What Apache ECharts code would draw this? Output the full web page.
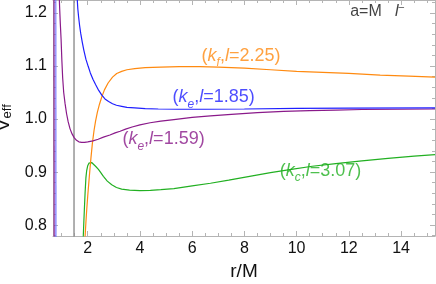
<!DOCTYPE html>
<html><head><meta charset="utf-8">
<script src="https://cdn.jsdelivr.net/npm/echarts@6/dist/echarts.min.js"></script>
<style>html,body{margin:0;padding:0;background:#fff}#c{width:436px;height:284px}</style>
</head><body><div id="c"></div>
<script>
// ---- data ----
const xTicks = [2, 4, 6, 8, 10, 12, 14];
const yTicks = [0.8, 0.9, 1.0, 1.1, 1.2];
const xMinorTicks = [1, 1.5, 2.5, 3, 3.5, 4.5, 5, 5.5, 6.5, 7, 7.5, 8.5, 9, 9.5, 10.5, 11, 11.5, 12.5, 13, 13.5, 14.5, 15];
const yMinorTicks = [0.78, 0.82, 0.84, 0.86, 0.88, 0.92, 0.94, 0.96, 0.98, 1.02, 1.04, 1.06, 1.08, 1.12, 1.14, 1.16, 1.18, 1.22];
const horizonLine = [[1.475, 0.7], [1.475, 1.3]];

const bluePole = [[0.765, 1.3], [0.775, 0.7]];
const blueCurve = [[1.58,1.25],[1.60,1.2245],[1.62,1.208],[1.65,1.193],[1.69,1.176],[1.73,1.162],[1.79,1.145],[1.85,1.130],[1.93,1.113],[2.02,1.099],[2.10,1.087],[2.20,1.075],[2.30,1.065],[2.42,1.054],[2.54,1.045],[2.66,1.038],[2.80,1.033],[2.95,1.029],[3.1,1.026],[3.3,1.024],[3.5,1.022],[3.8,1.021],[4.2,1.0195],[4.7,1.019],[5.5,1.0185],[6.5,1.0185],[8,1.019],[10,1.020],[12,1.0205],[15.3,1.021]];

const purplePole = [[0.705, 1.3], [0.715, 0.7]];
const purpleCurve = [[0.90,1.25],[0.92,1.215],[0.95,1.18],[0.98,1.150],[1.01,1.11],[1.04,1.078],[1.08,1.05],[1.13,1.030],[1.19,1.010],[1.25,0.995],[1.32,0.982],[1.40,0.972],[1.48,0.965],[1.57,0.960],[1.66,0.957],[1.76,0.956],[1.88,0.956],[2.0,0.957],[2.2,0.959],[2.4,0.962],[2.6,0.966],[2.85,0.970],[3.05,0.974],[3.24,0.977],[3.45,0.981],[3.7,0.985],[4.0,0.989],[4.39,0.993],[4.8,0.996],[5.3,0.999],[6,1.003],[6.7,1.006],[7.5,1.009],[8.5,1.012],[9.5,1.0145],[10.5,1.016],[11.5,1.017],[12.5,1.018],[14,1.0185],[15.3,1.019]];

const orangeCurve = [[1.89,0.75],[1.90,0.7795],[1.93,0.805],[1.96,0.828],[2.00,0.855],[2.06,0.891],[2.12,0.925],[2.18,0.955],[2.24,0.978],[2.30,0.996],[2.37,1.013],[2.45,1.028],[2.54,1.042],[2.64,1.055],[2.78,1.068],[2.95,1.079],[3.11,1.086],[3.3,1.090],[3.5,1.093],[3.8,1.095],[4.2,1.097],[4.8,1.098],[5.5,1.099],[6.3,1.099],[7,1.098],[8,1.096],[9,1.093],[10,1.090],[11,1.088],[12,1.086],[13.2,1.083],[14.3,1.081],[15.3,1.079]];

const greenCurve = [[1.82,0.75],[1.83,0.7795],[1.85,0.805],[1.87,0.828],[1.90,0.862],[1.93,0.889],[1.96,0.903],[2.00,0.912],[2.05,0.917],[2.10,0.9185],[2.15,0.918],[2.22,0.915],[2.30,0.911],[2.41,0.905],[2.5,0.899],[2.6,0.892],[2.75,0.883],[2.92,0.876],[3.1,0.871],[3.3,0.868],[3.6,0.866],[4.0,0.865],[4.4,0.8655],[4.8,0.867],[5.3,0.869],[6,0.874],[6.7,0.879],[7.4,0.885],[8.2,0.892],[9,0.899],[9.8,0.905],[10.6,0.911],[11.5,0.916],[12.5,0.921],[13.5,0.926],[14.5,0.930],[15.3,0.933]];

// label anchors (data coords, left-middle of text)
const orangeLabelAt = [6.36, 1.119];
const blueLabelAt = [5.25, 1.041];
const purpleLabelAt = [3.33, 0.962];
const greenLabelAt = [9.35, 0.902];
const titleAt = [12.05, 1.202];

// ---- chart ----
const FONT = '"Liberation Sans", Arial, sans-serif';
const X_MIN = 0.67, X_MAX = 15.3, Y_MIN = 0.7795, Y_MAX = 1.2245;
const FRAME = '#b4b4b4';
const C = {blue:'#1f1fff', purple:'#8a1a8a', orange:'#ff8a10', green:'#22b022'};

function lbl(color, sub, val) {
  const base = {fontFamily: FONT, fontSize: 18, color: color, lineHeight: 22};
  return {
    show: true, position: 'right', distance: 0,
    formatter: '{p|(}{i|k}{s|' + sub + '}{p|,}{i|l}{p|=' + val + ')}',
    rich: {
      p: base,
      i: Object.assign({}, base, {fontStyle: 'italic'}),
      s: Object.assign({}, base, {fontStyle: 'italic', fontSize: 12, verticalAlign: 'bottom', lineHeight: 26})
    }
  };
}
function labelSeries(at, label) {
  return {type: 'scatter', data: [at], symbolSize: 0, label: label, silent: true, z: 10};
}
function lineSeries(data, color, width, opacity) {
  return {type: 'line', data: data, showSymbol: false, symbol: 'none', smooth: false,
    lineStyle: {color: color, width: width, opacity: opacity == null ? 1 : opacity}, silent: true, clip: true};
}

function xAx(gridIndex, pos, ticks, len, line, labels, name) {
  return {type: 'value', gridIndex: gridIndex, position: pos, min: X_MIN, max: X_MAX,
    axisLine: {show: line, onZero: false, lineStyle: {color: FRAME, width: 1}},
    axisTick: {show: true, inside: true, length: len, customValues: ticks, lineStyle: {color: FRAME, width: 1}},
    axisLabel: labels ? {show: true, customValues: ticks, color: '#111', fontSize: 16, fontFamily: FONT, margin: 5} : {show: false},
    splitLine: {show: false},
    name: name || '', nameLocation: 'middle', nameGap: 25,
    nameTextStyle: {fontFamily: FONT, fontSize: 19, color: '#111'}};
}
function yAx(gridIndex, pos, ticks, len, line, labels, name) {
  return {type: 'value', gridIndex: gridIndex, position: pos, min: Y_MIN, max: Y_MAX,
    axisLine: {show: line, onZero: false, lineStyle: {color: FRAME, width: 1}},
    axisTick: {show: true, inside: true, length: len, customValues: ticks, lineStyle: {color: FRAME, width: 1}},
    axisLabel: labels ? {show: true, customValues: ticks, color: '#111', fontSize: 16, fontFamily: FONT, margin: 6,
      formatter: v => v.toFixed(1)} : {show: false},
    splitLine: {show: false},
    name: name ? '{v|V}{s|eff}' : '', nameLocation: 'middle', nameGap: 32, nameRotate: 90,
    nameTextStyle: {rich: {
      v: {fontFamily: FONT, fontSize: 20, color: '#111', lineHeight: 20},
      s: {fontFamily: FONT, fontSize: 13, color: '#111', lineHeight: 20, verticalAlign: 'bottom'}
    }}};
}

const grid = {left: 53, right: 1, top: 0, bottom: 48, outerBoundsMode: 'none', containLabel: false};
const option = {
  animation: false,
  backgroundColor: '#fff',
  grid: [Object.assign({}, grid), Object.assign({}, grid)],
  xAxis: [
    xAx(0, 'bottom', xTicks, 5, true, true, 'r/M'),
    xAx(0, 'top', xTicks, 5, true, false),
    xAx(1, 'bottom', xMinorTicks, 3, false, false),
    xAx(1, 'top', xMinorTicks, 3, false, false)
  ],
  yAxis: [
    yAx(0, 'left', yTicks, 5, true, true, true),
    yAx(0, 'right', yTicks, 5, true, false),
    yAx(1, 'left', yMinorTicks, 3, false, false),
    yAx(1, 'right', yMinorTicks, 3, false, false)
  ],
  series: [
    lineSeries(horizonLine, '#8f8f8f', 1.4),
    lineSeries(bluePole, '#6f6fff', 2, 0.7),
    lineSeries(purplePole, C.purple, 1.2, 0.9),
    lineSeries(greenCurve, C.green, 1.2),
    lineSeries(orangeCurve, C.orange, 1.2),
    lineSeries(purpleCurve, C.purple, 1.2),
    lineSeries(blueCurve, C.blue, 1.2),
    labelSeries(orangeLabelAt, lbl(C.orange, 'f', '2.25')),
    labelSeries(blueLabelAt, lbl(C.blue, 'e', '1.85')),
    labelSeries(purpleLabelAt, lbl(C.purple, 'e', '1.59')),
    labelSeries(greenLabelAt, lbl(C.green, 'c', '3.07')),
    labelSeries(titleAt, {show: true, position: 'right', distance: 0,
      formatter: '{p|a=M}{g|   }{i|l}{u|\u2013}',
      rich: {
        p: {fontFamily: FONT, fontSize: 16, color: '#111', lineHeight: 20},
        g: {fontFamily: FONT, fontSize: 16, lineHeight: 20},
        i: {fontFamily: FONT, fontSize: 16, color: '#111', fontStyle: 'italic', lineHeight: 20},
        u: {fontFamily: FONT, fontSize: 10, color: '#111', verticalAlign: 'top', lineHeight: 20}
      }})
  ]
};
const chart = echarts.init(document.getElementById('c'), null, {renderer: 'canvas'});
chart.setOption(option);
</script></body></html>
